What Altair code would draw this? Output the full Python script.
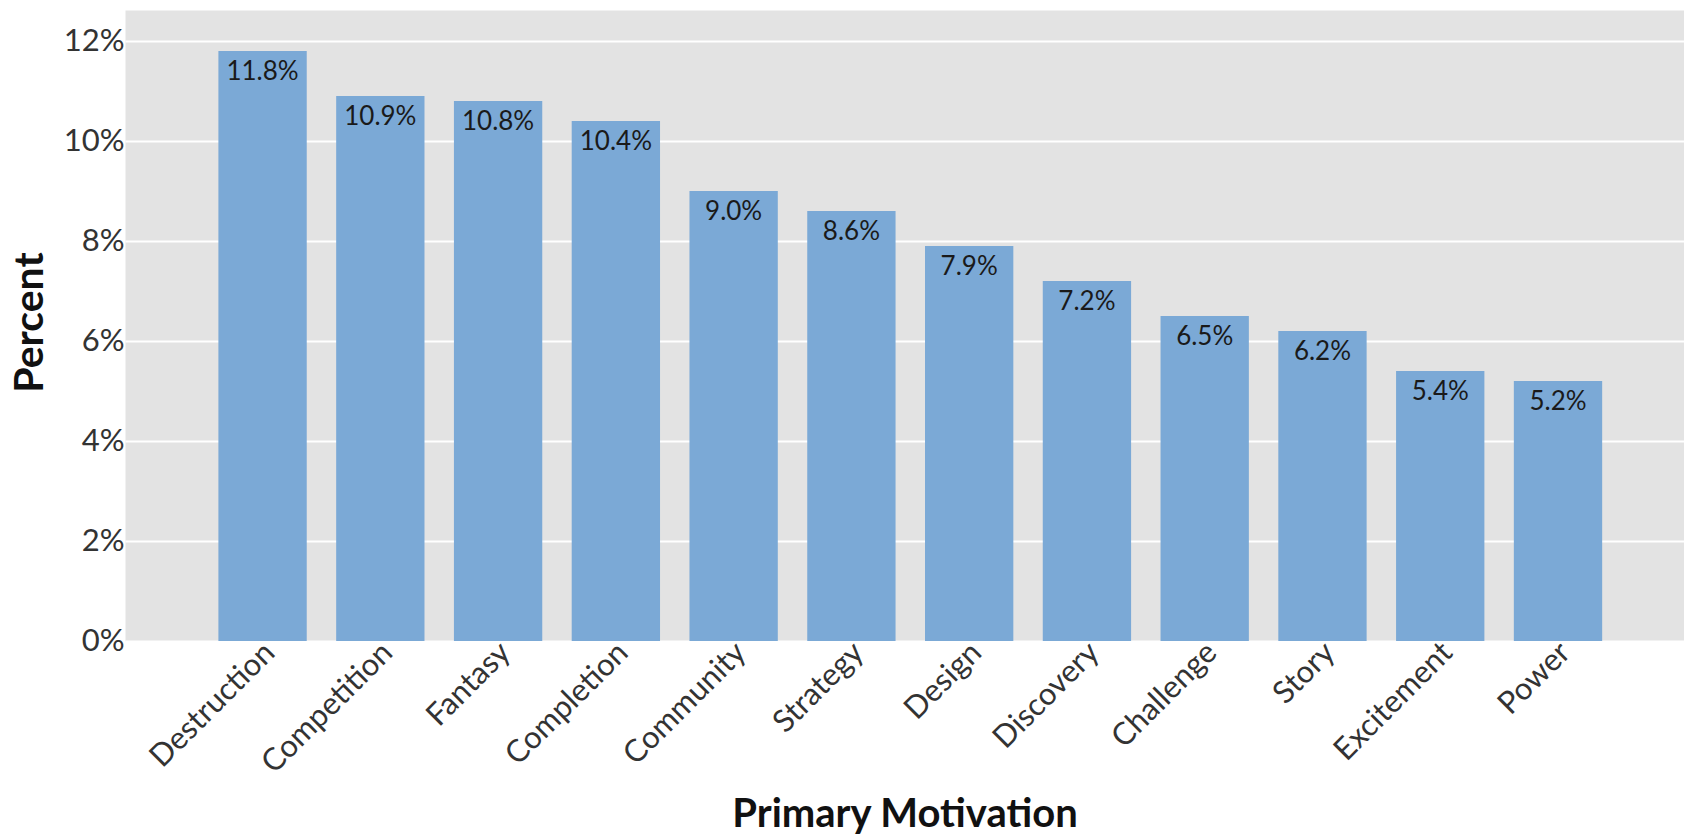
import altair as alt
import pandas as pd

# Share of respondents by primary gaming motivation
motivations = [
    "Destruction", "Competition", "Fantasy", "Completion", "Community", "Strategy",
    "Design", "Discovery", "Challenge", "Story", "Excitement", "Power",
]
percent = [11.8, 10.9, 10.8, 10.4, 9.0, 8.6, 7.9, 7.2, 6.5, 6.2, 5.4, 5.2]

df = pd.DataFrame({"motivation": motivations, "percent": percent})
df["label"] = [f"{v:.1f}%" for v in percent]

W, H = 1559, 631
FONT = "Lato"

x_enc = alt.X(
    "motivation:N",
    sort=motivations,
    title="Primary Motivation",
    scale=alt.Scale(paddingInner=0.25, paddingOuter=0.744, align=0.533),
    axis=alt.Axis(
        labelAngle=-45,
        labelAlign="right",
        labelBaseline="top",
        labelFontSize=31,
        labelPadding=-4,
        labelOffset=-3,
        labelColor="#333333",
        ticks=False,
        domain=False,
        grid=False,
        titleFontSize=40,
        titleFontWeight="bold",
        titleColor="#111111",
        titleX=W / 2,
        titleY=185,
        titleAlign="center",
        titleBaseline="alphabetic",
    ),
)

y_enc = alt.Y(
    "percent:Q",
    title="Percent",
    scale=alt.Scale(domain=[0, 12.62], nice=False, zero=True),
    axis=alt.Axis(
        values=[0, 2, 4, 6, 8, 10, 12],
        labelExpr="datum.value + '%'",
        labelFontSize=31,
        labelPadding=1,
        labelColor="#333333",
        ticks=False,
        domain=False,
        grid=True,
        gridColor="#ffffff",
        gridWidth=2,
        titleFontSize=41,
        titleFontWeight="bold",
        titleColor="#111111",
        titleAngle=-90,
        titleX=-83,
        titleY=312,
        titleAlign="center",
        titleBaseline="alphabetic",
    ),
)

bars = alt.Chart(df).mark_bar(color="#7ba9d6").encode(x=x_enc, y=y_enc)

labels = alt.Chart(df).mark_text(
    baseline="alphabetic", align="center", dy=29, fontSize=26, font=FONT, color="#1a1a1a"
).encode(
    x=alt.X("motivation:N", sort=motivations),
    y=alt.Y("percent:Q"),
    text="label:N",
)

chart = (
    alt.layer(bars, labels)
    .properties(
        width=W,
        height=H,
        autosize=alt.AutoSizeParams(type="none"),
        padding={"left": 125, "top": 10, "right": 0, "bottom": 195},
    )
    .configure(font=FONT, background="#ffffff")
    .configure_view(fill="#e3e3e3", stroke="transparent")
)

chart.save("out.html", embed_options={"renderer": "svg", "actions": False})
